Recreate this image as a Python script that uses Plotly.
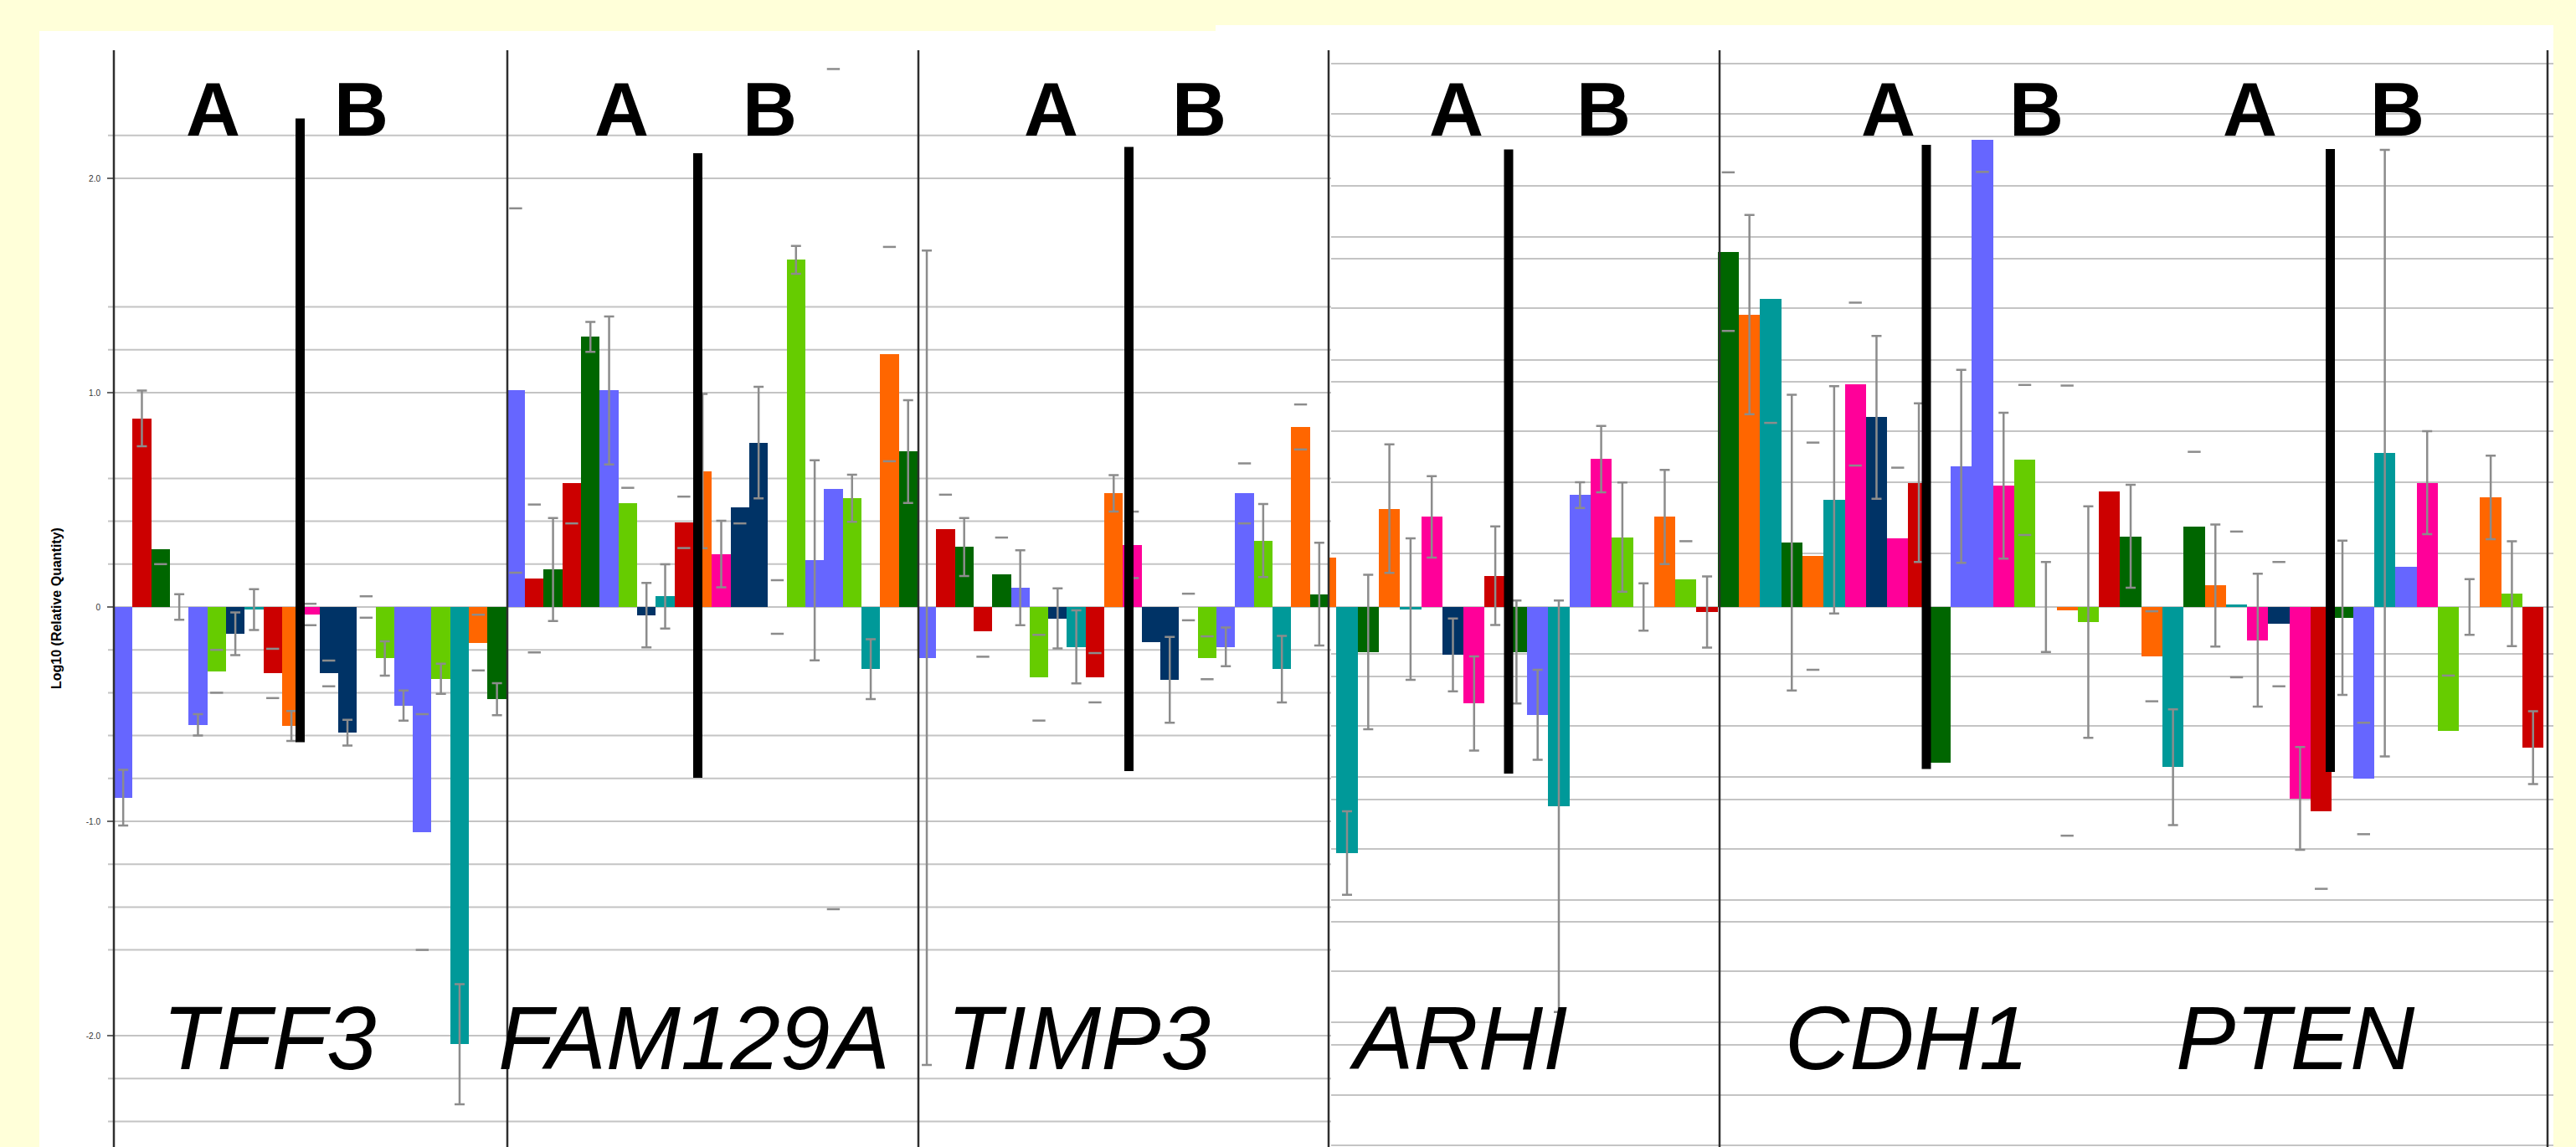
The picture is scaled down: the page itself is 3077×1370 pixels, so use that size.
import plotly.graph_objects as go

W, H = 3077, 1370

# ------------------------------------------------------------------ data
GENES = ["TFF3", "FAM129A", "TIMP3", "ARHI", "CDH1", "PTEN"]
GROUP_LABELS = ["A", "B"]
Y_TICK_VALUES = [-2, -1, 0, 1, 2]
Y_TICK_TEXT = ["-2.0", "-1.0", "0", "1.0", "2.0"]
Y_TITLE = "Log10 (Relative Quantity)"

# colour keys: B blue, R red, G dark green, L light green, N navy, T teal, O orange, P pink, - none
# error kinds: f = full bar with caps, c = both caps only, u = upper cap only, l = lower cap only
TFF3_values = [-0.89, 0.88, 0.27, 0.0, -0.55, -0.30, -0.125, -0.012, -0.31, -0.555, -0.035,
               -0.31, -0.586, 0.0, -0.24, -0.46, -1.05, -0.335, -2.04, -0.166, -0.43]
TFF3_colors = list("BRG-BLNTROPNN-LBBLTOG")
TFF3_errors = [0.13, 0.13, 0.07, 0.06, 0.05, 0.10, 0.10, 0.095, 0.115, 0.07, 0.05,
               0.06, 0.06, 0.05, 0.08, 0.07, 0.55, 0.07, 0.28, 0.13, 0.075]
TFF3_errkind = list("fflffcffcfccfcffcffcf")

FAM129A_values = [1.01, 0.133, 0.175, 0.58, 1.26, 1.01, 0.486, -0.038, 0.049, 0.395, 0.634,
                  0.247, 0.465, 0.767, 0.0, 1.62, 0.218, 0.55, 0.507, -0.29, 1.18, 0.725]
FAM129A_colors = list("BRGRGBLNTROPNN-LBBLTOG")
FAM129A_errors = [0.85, 0.345, 0.24, 0.19, 0.07, 0.345, 0.07, 0.15, 0.15, 0.12, 0.36,
                  0.155, 0.075, 0.26, 0.125, 0.065, 0.467, 1.96, 0.11, 0.14, 0.5, 0.24]
FAM129A_errkind = list("ccflffuffcfflfcffcffcf")

TIMP3_values = [-0.237, 0.364, 0.28, -0.112, 0.154, 0.09, -0.33, -0.053, -0.186, -0.33, 0.53,
                0.29, -0.165, -0.34, 0.0, -0.237, -0.186, 0.53, 0.31, -0.29, 0.84, 0.06]
TIMP3_colors = list("BRGRGBLNTROPNN-LBBLTOG")
TIMP3_errors = [1.9, 0.16, 0.135, 0.12, 0.17, 0.175, 0.2, 0.14, 0.17, 0.115, 0.085,
                0.155, 0.0, 0.2, 0.062, 0.1, 0.09, 0.14, 0.17, 0.155, 0.105, 0.24]
TIMP3_errkind = list("fuflufcffcfc-fccfcffcf")

ARHI_values = [0.23, -1.148, -0.21, 0.459, -0.01, 0.42, -0.224, -0.45, 0.146, -0.21,
               -0.503, -0.93, 0.522, 0.69, 0.326, 0.0, 0.42, 0.127, -0.023]
ARHI_colors = list("OTGOTPNPRGBTBPL-OLR")
ARHI_errors = [0.0, 0.195, 0.36, 0.30, 0.33, 0.19, 0.17, 0.22, 0.23, 0.24,
               0.21, 0.96, 0.06, 0.155, 0.255, 0.11, 0.22, 0.18, 0.166]
ARHI_errkind = list("-ffffffffffffffffuf")

CDH1_values = [1.658, 1.364, 1.439, 0.30, 0.237, 0.50, 1.04, 0.885, 0.32, 0.58,
               -0.728, 0.656, 2.18, 0.566, 0.686, 0.0, -0.017, -0.07, 0.541]
CDH1_colors = list("GOTGOTPNPRGBBPL-OLR")
CDH1_errors = [0.37, 0.465, 0.58, 0.69, 0.53, 0.53, 0.38, 0.38, 0.33, 0.37,
               0.0, 0.45, 0.15, 0.34, 0.35, 0.21, 1.05, 0.54, 0.0]
CDH1_errkind = list("cflfcfcfuf-flfcfcf-")

PTEN_values = [0.33, -0.23, -0.748, 0.374, 0.10, 0.012, -0.155, -0.08, -0.893, -0.955,
               -0.05, -0.80, 0.718, 0.187, 0.58, -0.58, 0.0, 0.511, 0.062, -0.656]
PTEN_colors = list("GOTGOTPNPRGBTBPL-OLR")
PTEN_errors = [0.24, 0.21, 0.27, 0.35, 0.285, 0.34, 0.31, 0.29, 0.24, 0.36,
               0.36, 0.26, 1.415, 0.0, 0.24, 0.26, 0.13, 0.195, 0.245, 0.17]
PTEN_errkind = list("fcfufcfcflfcf-fuffff")

# ------------------------------------------------------------------ styles / layout constants
PALETTE = {"B": "#6666FF", "R": "#CC0000", "G": "#006600", "L": "#66CC00",
           "N": "#003366", "T": "#009999", "O": "#FF6600", "P": "#FF0099",
           "-": "rgba(0,0,0,0)"}
ERR_COLOR = "#8c8c8c"
GRID_COLOR = "#c4c4c4"
BG_YELLOW = "#FFFFD9"
FONT = "Liberation Sans"

Y_ZERO_PX, PX_PER_UNIT = 725, 256.0


def pxx(x):
    return x / W


def pxy(y):
    return 1 - y / H


def vy(ypx):
    return (Y_ZERO_PX - ypx) / PX_PER_UNIT


y_top, y_bot = vy(0), vy(H)

halves = [
    ("x", [(TFF3_values, TFF3_colors, TFF3_errors, TFF3_errkind),
           (FAM129A_values, FAM129A_colors, FAM129A_errors, FAM129A_errkind),
           (TIMP3_values, TIMP3_colors, TIMP3_errors, TIMP3_errkind)]),
    ("x2", [(ARHI_values, ARHI_colors, ARHI_errors, ARHI_errkind),
            (CDH1_values, CDH1_colors, CDH1_errors, CDH1_errkind),
            (PTEN_values, PTEN_colors, PTEN_errors, PTEN_errkind)]),
]

fig = go.Figure()
for axis, genes in halves:
    xs, ys, cs = [], [], []
    fx, fy, fe = [], [], []
    cx, cy = [], []
    i = 0
    for vals, cols, errs, kinds in genes:
        for v, c, e, k in zip(vals, cols, errs, kinds):
            xs.append(i)
            ys.append(v)
            cs.append(PALETTE[c])
            if e > 0 and k == "f":
                fx.append(i); fy.append(v); fe.append(e)
            elif e > 0 and k in "cul":
                if k in "cu":
                    cx.append(i); cy.append(v + e)
                if k in "cl":
                    cx.append(i); cy.append(v - e)
            i += 1
    fig.add_trace(go.Bar(x=xs, y=ys, width=1, xaxis=axis, yaxis="y",
                         marker=dict(color=cs, line=dict(width=0)),
                         showlegend=False, hoverinfo="skip"))
    fig.add_trace(go.Scatter(x=fx, y=fy, mode="markers", xaxis=axis, yaxis="y",
                             marker=dict(size=1, color="rgba(0,0,0,0)"),
                             error_y=dict(type="data", array=fe, visible=True, color=ERR_COLOR,
                                          thickness=2.5, width=6),
                             showlegend=False, hoverinfo="skip"))
    fig.add_trace(go.Scatter(x=cx, y=cy, mode="markers", xaxis=axis, yaxis="y",
                             marker=dict(symbol="line-ew", size=11,
                                         line=dict(width=2.5, color=ERR_COLOR)),
                             showlegend=False, hoverinfo="skip"))

shapes = []
# white chart areas on the yellow page
shapes.append(dict(type="rect", xref="paper", yref="paper", x0=pxx(47), x1=pxx(1452),
                   y0=0, y1=pxy(37), fillcolor="white", line=dict(width=0), layer="below"))
shapes.append(dict(type="rect", xref="paper", yref="paper", x0=pxx(1452), x1=pxx(3050),
                   y0=0, y1=pxy(30), fillcolor="white", line=dict(width=0), layer="below"))
# grid lines (left and right images have different grids)
LEFT_GRID = [2.2, 2.0, 1.4, 1.2, 1.0, 0.6, 0.4, 0.2, 0.0, -0.2, -0.4, -0.6, -0.8, -1.0,
             -1.2, -1.4, -1.6, -2.0, -2.2, -2.4]
RIGHT_GRID_PX = [76, 136, 163, 222, 283, 309, 368, 430, 456, 515, 576, 661, 725, 781, 808, 867,
                 928, 955, 1014, 1075, 1101, 1160, 1221, 1248, 1308, 1368]
for g in LEFT_GRID:
    shapes.append(dict(type="line", xref="paper", yref="y", x0=pxx(129), x1=pxx(1590),
                       y0=g, y1=g, line=dict(color=GRID_COLOR, width=2), layer="below"))
for gp in RIGHT_GRID_PX:
    g = vy(gp)
    shapes.append(dict(type="line", xref="paper", yref="y", x0=pxx(1590), x1=pxx(3050),
                       y0=g, y1=g, line=dict(color=GRID_COLOR, width=2), layer="below"))
# panel boundary lines
for xl in [136, 606, 1097, 1587, 2054, 3043]:
    shapes.append(dict(type="line", xref="paper", yref="paper", x0=pxx(xl), x1=pxx(xl),
                       y0=0, y1=pxy(60), line=dict(color="#2e2e2e", width=2.5), layer="above"))
# thick A|B separators
SEPARATORS = [(358.5, 141.5, 886.5), (833.5, 183, 929), (1348.5, 175.5, 921),
              (1802, 178.6, 924), (2301, 173, 918.5), (2783.5, 178, 922)]
for cxp, t, b in SEPARATORS:
    shapes.append(dict(type="rect", xref="paper", yref="y", x0=pxx(cxp - 5.5), x1=pxx(cxp + 5.5),
                       y0=vy(b), y1=vy(t), fillcolor="black", line=dict(width=0), layer="above"))

annotations = []
AB_POS = [(254.5, 432), (742.5, 919), (1255, 1432), (1739, 1915), (2255.5, 2432.5), (2687.5, 2863.5)]
for (xa, xb) in AB_POS:
    for lab, xp in zip(GROUP_LABELS, (xa, xb)):
        annotations.append(dict(text=lab, xref="paper", yref="paper", x=pxx(xp), y=pxy(131),
                                xanchor="center", yanchor="middle", showarrow=False,
                                font=dict(family=FONT, size=90, color="black", weight="bold")))
GENE_X = [321.5, 829, 1288, 1742, 2277, 2742]
for name, xp in zip(GENES, GENE_X):
    annotations.append(dict(text=name, xref="paper", yref="paper", x=pxx(xp), y=pxy(1240),
                            xanchor="center", yanchor="middle", showarrow=False,
                            font=dict(family=FONT, size=107, color="black", style="italic")))
annotations.append(dict(text=Y_TITLE, xref="paper", yref="paper", x=pxx(67), y=pxy(727),
                        xanchor="center", yanchor="middle", textangle=-90, showarrow=False,
                        font=dict(family=FONT, size=16, color="black", weight="bold")))

fig.update_layout(
    width=W, height=H, autosize=False,
    margin=dict(l=0, r=0, t=0, b=0),
    paper_bgcolor=BG_YELLOW, plot_bgcolor="rgba(0,0,0,0)",
    barmode="overlay", bargap=0,
    font=dict(family=FONT),
    xaxis=dict(domain=[pxx(136), pxx(1587)], range=[-0.5, 64.5], visible=False,
               anchor="y", fixedrange=True),
    xaxis2=dict(domain=[pxx(1587), pxx(3050)], range=[0.13, 57.96], visible=False,
                anchor="y", fixedrange=True),
    yaxis=dict(domain=[0, 1], range=[y_bot, y_top], anchor="x", showgrid=False,
               zeroline=False, showline=False, tickvals=Y_TICK_VALUES, ticktext=Y_TICK_TEXT,
               ticks="outside", ticklen=7, tickcolor="#666", tickwidth=1.5,
               ticklabelstandoff=6,
               tickfont=dict(family=FONT, size=10, color="#333"), fixedrange=True),
    shapes=shapes,
    annotations=annotations,
)

fig.write_html(
    "out.html",
    config={"displayModeBar": False},
    post_script="document.body.style.margin='0';document.body.style.padding='0';"
                "document.body.style.overflow='hidden';",
)
